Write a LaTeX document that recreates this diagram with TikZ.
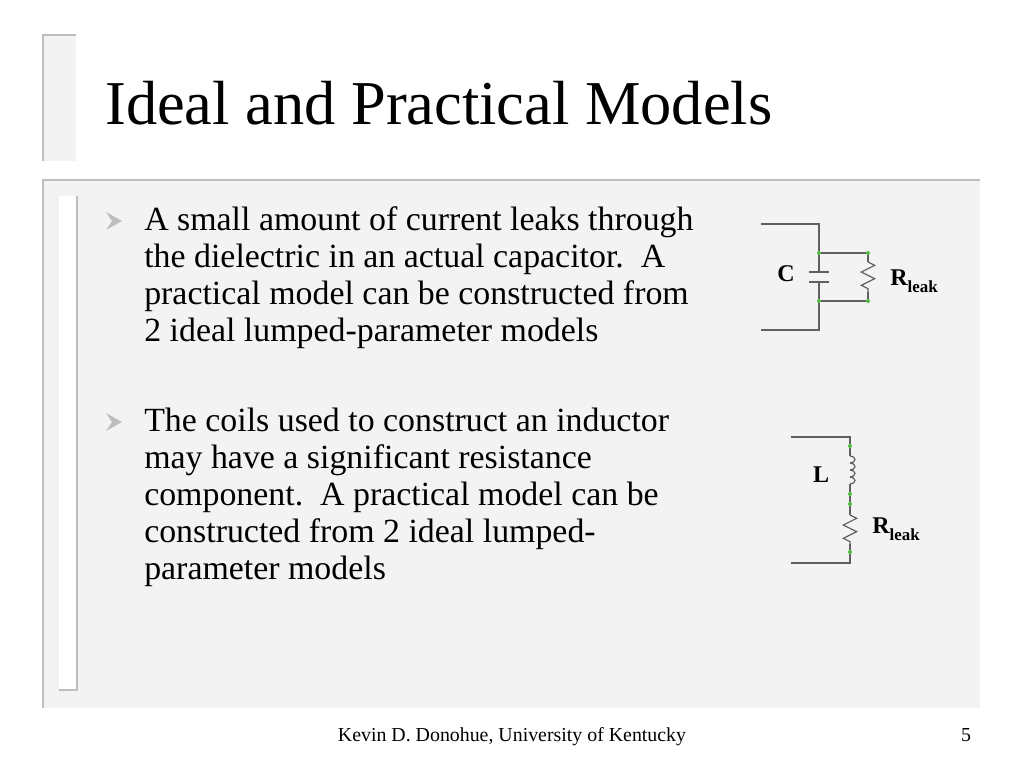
\documentclass[tikz,border=0pt]{standalone}
\usepackage{fontspec}
\setmainfont{Liberation Serif}
\usepackage{pgf,tikz}
\usetikzlibrary{decorations.pathmorphing}
\definecolor{panel}{HTML}{F3F3F3}
\definecolor{edge}{HTML}{BEBEBE}
\definecolor{dotgreen}{HTML}{4CBB3C}
\definecolor{wirecolor}{HTML}{606060}
\tikzstyle{wire} = [draw=wirecolor,line width=0.9pt]
\tikzstyle{resistor} = [wire,decorate,decoration={zigzag,segment length=10,amplitude=5}]
\tikzstyle{tap} = [circle,fill=dotgreen,minimum size=3pt,inner sep=0pt]
\tikzstyle{title} = [anchor=base west,inner sep=0pt,font=\fontsize{46.8}{52}\selectfont]
\tikzstyle{body} = [anchor=north west,inner sep=0pt,align=left,font=\fontsize{25.4}{27.75}\selectfont]
\tikzstyle{value} = [inner sep=0pt,font=\fontsize{18}{20}\selectfont\bfseries]
\tikzstyle{foot} = [anchor=base,inner sep=0pt,font=\fontsize{14.9}{16}\selectfont]
\tikzstyle{bullet} = [fill=edge,draw=none]
\newcommand{\rleak}{R\raisebox{-0.3em}{\fontsize{12.7}{13}\selectfont leak}}

\begin{document}
\begin{tikzpicture}[x=0.75pt,y=-0.75pt]
    \useasboundingbox (0,0) rectangle (1024,768);
    % background panels
    \fill[panel] (43,35) rectangle (76,161);
    \draw[edge,line width=1pt] (43,161) -- (43,35) -- (76,35);
    \fill[panel] (43,180) rectangle (980,708);
    \draw[edge,line width=1pt] (43,708) -- (43,180) -- (980,180);
    \fill[white] (59,196) rectangle (77,690);
    \draw[edge,line width=1pt] (77,196) -- (77,690) -- (59,690);
    % bullets
    \foreach \y in {221,422}
        \fill[bullet] (106,\y-9) -- (122,\y) -- (106,\y+9) -- (112,\y) -- cycle;
    % texts
    \node[title] (head) at (105,124) {Ideal and Practical Models};
    \node[body] (first) at (144,206) {A small amount of current leaks through\\the dielectric in an actual capacitor.\ \ A\\practical model can be constructed from\\2 ideal lumped-parameter models};
    \node[body] (second) at (144,408) {The coils used to construct an inductor\\may have a significant resistance\\component.\ \ A practical model can be\\constructed from 2 ideal lumped-\\parameter models};
    \node[foot] (author) at (512,741) {Kevin D. Donohue, University of Kentucky};
    \node[foot] (page) at (966,741) {5};
    % capacitor with leak
    \foreach \x/\y/\name in {761/224/ca, 819/224/cb, 761/330/cc, 819/330/cd, 819/272/ce, 819/282/cf, 809/272/pa, 829/272/pb, 809/282/pc, 829/282/pd, 868/262/ra, 868/292/rb}
        \coordinate (\name) at (\x,\y);
    \foreach \pos/\name in {{(819,253)/ta}, {(819,301)/tb}, {(868,253)/tc}, {(868,301)/td}}
        \node[tap] (\name) at \pos {};
    \draw[wire] (ca) -- (cb) -- (ta) -- (ce);
    \draw[wire] (cc) -- (cd) -- (tb) -- (cf);
    \draw[wire] (pa) -- (pb);
    \draw[wire] (pc) -- (pd);
    \draw[wire] (ta) -- (tc) -- (ra);
    \draw[wire] (tb) -- (td) -- (rb);
    \draw[resistor] (ra) -- (rb);
    \node[value] (capname) at (786,274) {C};
    \node[value,anchor=base west] (capleak) at (890,285) {\rleak};
    % inductor with leak
    \foreach \x/\y/\name in {791/437/la, 850/437/lb, 791/563/lc, 850/563/ld, 850/456/le, 850/463/lf, 850/470/lg, 850/477/lh, 850/484/li, 850/515/sa, 850/544/sb}
        \coordinate (\name) at (\x,\y);
    \foreach \pos/\name in {{(850,446)/na}, {(850,494)/nb}, {(850,504)/nc}, {(850,552)/nd}}
        \node[tap] (\name) at \pos {};
    \draw[wire] (la) -- (lb) -- (na) -- (le);
    \draw[wire] (li) -- (nb) -- (nc) -- (sa);
    \draw[wire] (sb) -- (nd) -- (ld) -- (lc);
    \foreach \source in {le, lf, lg, lh}
        \draw[wire] (\source) arc[start angle=-90,end angle=90,x radius=5,y radius=3.5];
    \draw[resistor] (sa) -- (sb);
    \node[value] (indname) at (821,475) {L};
    \node[value,anchor=base west] (indleak) at (872,533) {\rleak};
\end{tikzpicture}
\end{document}
